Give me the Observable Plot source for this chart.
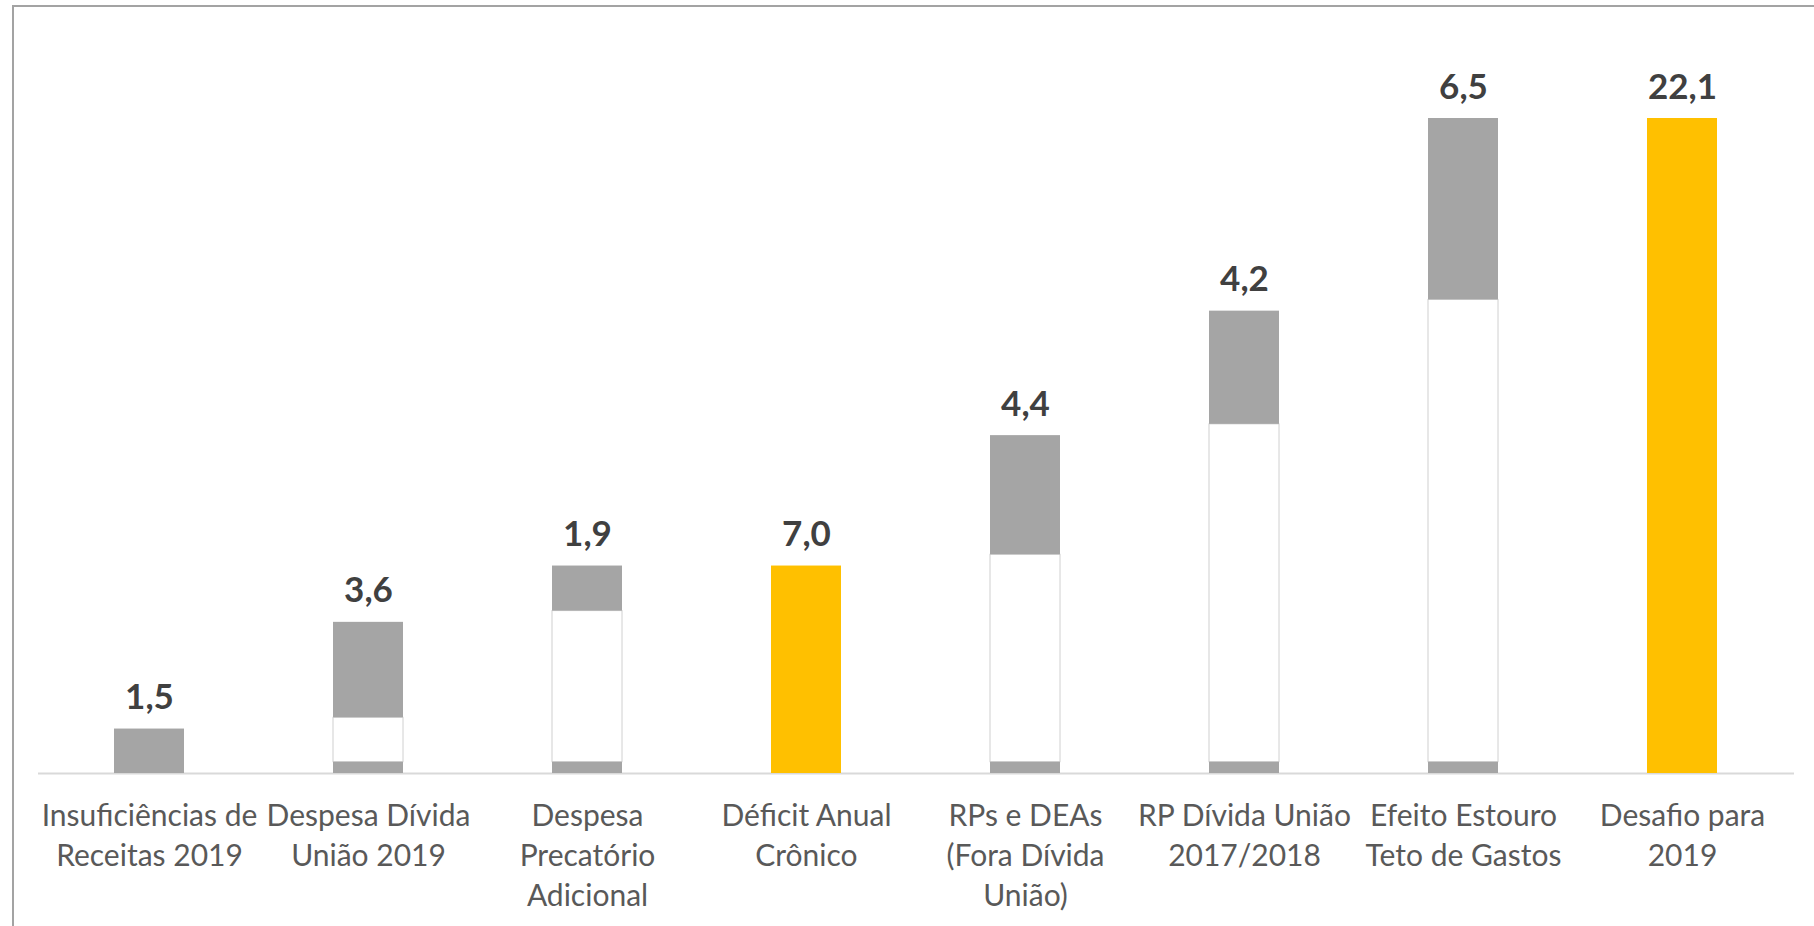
<!DOCTYPE html>
<html><head><meta charset="utf-8">
<script src="https://cdn.jsdelivr.net/npm/d3@7"></script>
<script src="https://cdn.jsdelivr.net/npm/@observablehq/plot@0.6"></script>
<style>
html,body{margin:0;padding:0;background:#fff;overflow:hidden;width:1814px;height:926px;}
#frame{position:absolute;left:12px;top:5px;width:1900px;height:1000px;border:2px solid #a3a3a3;box-sizing:border-box;}
#chart{position:absolute;left:0;top:0;}
</style></head><body>
<div id="frame"></div><div id="chart"></div>
<script>
const categories = ["Insuficiências de Receitas 2019","Despesa Dívida União 2019","Despesa Precatório Adicional","Déficit Anual Crônico","RPs e DEAs (Fora Dívida União)","RP Dívida União 2017/2018","Efeito Estouro Teto de Gastos","Desafio para 2019"];
const tickLabels = ["Insuficiências de\nReceitas 2019","Despesa Dívida\nUnião 2019","Despesa\nPrecatório\nAdicional","Déficit Anual\nCrônico","RPs e DEAs\n(Fora Dívida\nUnião)","RP Dívida União\n2017/2018","Efeito Estouro\nTeto de Gastos","Desafio para\n2019"];
const values = [1.5, 3.6, 1.9, 7.0, 4.4, 4.2, 6.5, 22.1];
const isTotal = [false, false, false, true, false, false, false, true];
const baseStub = 0.38; // small grey segment drawn at the bottom of each floating bar in the original

const GREY = "#a5a5a5", GOLD = "#ffc000";
const fmt = v => v.toFixed(1).replace(".", ",");

const segments = [];
const tops = [];
let running = 0;
categories.forEach((c, i) => {
  const v = values[i];
  if (isTotal[i]) {
    segments.push({cat: c, y1: 0, y2: v, kind: "total"});
    running = v;
  } else {
    const start = running, end = running + v;
    if (start === 0) {
      segments.push({cat: c, y1: 0, y2: end, kind: "delta"});
    } else {
      segments.push({cat: c, y1: 0, y2: baseStub, kind: "delta"});
      segments.push({cat: c, y1: baseStub, y2: end - v + baseStub, kind: "base"});
      segments.push({cat: c, y1: end - v + baseStub, y2: end, kind: "delta"});
    }
    running = end;
  }
  tops.push({cat: c, top: running, label: fmt(v)});
});

const labelMap = new Map(categories.map((c, i) => [c, tickLabels[i]]));
const FONT = "Lato, 'Open Sans', sans-serif";

const chart = Plot.plot({
  width: 1814,
  height: 926,
  marginLeft: 38,
  marginRight: 20,
  marginTop: 118,
  marginBottom: 153,
  style: {fontFamily: FONT, background: "transparent"},
  x: {domain: categories, paddingInner: 0.68, paddingOuter: 0.34, axis: null},
  y: {domain: [0, 22.1], axis: null},
  marks: [
    Plot.ruleY([0], {stroke: "#d9d9d9", strokeWidth: 2}),
    Plot.barY(segments.filter(d => d.kind === "base"), {x: "cat", y1: "y1", y2: "y2", fill: "#ffffff", stroke: "#d0d0d0", strokeWidth: 1}),
    Plot.barY(segments.filter(d => d.kind === "delta"), {x: "cat", y1: "y1", y2: "y2", fill: GREY}),
    Plot.barY(segments.filter(d => d.kind === "total"), {x: "cat", y1: "y1", y2: "y2", fill: GOLD}),
    Plot.text(tops, {x: "cat", y: "top", text: "label", dy: -20, lineAnchor: "bottom", fontSize: 35, fontWeight: "bold", fill: "#404040"}),
    Plot.text(categories, {x: d => d, text: d => labelMap.get(d), frameAnchor: "bottom", lineAnchor: "top", dy: 24, fontSize: 30, lineHeight: 1.34, fill: "#595959"})
  ]
});
document.getElementById("chart").appendChild(chart);
</script>
</body></html>
